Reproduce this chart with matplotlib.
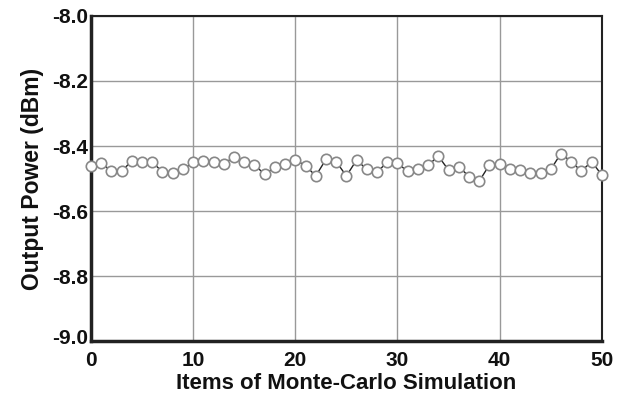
import matplotlib
matplotlib.use("Agg")
import matplotlib.pyplot as plt
from matplotlib.transforms import ScaledTranslation

plt.rcParams['font.family'] = ['Liberation Sans', 'DejaVu Sans']
plt.rcParams['font.weight'] = 'bold'

# Monte-Carlo run index and output power (dBm)
items = list(range(51))
power = [-8.461, -8.453, -8.476, -8.478, -8.445, -8.448, -8.449, -8.480, -8.484, -8.472,
         -8.450, -8.445, -8.450, -8.455, -8.433, -8.448, -8.459, -8.486, -8.466, -8.456,
         -8.443, -8.460, -8.492, -8.441, -8.448, -8.492, -8.443, -8.472, -8.480, -8.450,
         -8.453, -8.478, -8.472, -8.459, -8.431, -8.474, -8.463, -8.494, -8.508, -8.458,
         -8.455, -8.472, -8.475, -8.484, -8.484, -8.472, -8.423, -8.448, -8.477, -8.448,
         -8.489]

xticks = [0, 10, 20, 30, 40, 50]
yticks = [-9.0, -8.8, -8.6, -8.4, -8.2, -8.0]

fig = plt.figure(figsize=(6.23, 3.99), dpi=100)
ax = fig.add_axes([0.146, 0.145, 0.82, 0.815])

ax.plot(items, power, color='#222222', linewidth=1.0, marker='o', markersize=7.5,
        markerfacecolor='white', markeredgecolor='#888888', markeredgewidth=1.2,
        clip_on=False, zorder=3)

ax.set_xlim(0, 50)
ax.set_ylim(-9.0, -8.0)
ax.set_xticks(xticks)
ax.set_yticks(yticks)
ax.set_yticklabels(['%.1f' % v for v in yticks])
ax.grid(True, color='#999999', linewidth=1.0)
ax.set_axisbelow(True)
for s in ax.spines.values():
    s.set_color('#222222')
    s.set_linewidth(1.5)
ax.spines['left'].set_linewidth(2.5)
ax.spines['bottom'].set_linewidth(2.5)
ax.tick_params(length=0, labelsize=15, pad=2, colors='#111111')
ax.tick_params(axis='x', pad=7)
# lift the bottom y label a little so it clears the x "0"
lab = ax.get_yticklabels()[0]
lab.set_transform(lab.get_transform() + ScaledTranslation(0, 3 / 72, fig.dpi_scale_trans))
ax.set_xlabel('Items of Monte-Carlo Simulation', fontsize=16, fontweight='bold',
              color='#111111', labelpad=2)
ax.set_ylabel('Output Power (dBm)', fontsize=16.5, fontweight='bold',
              color='#111111', labelpad=6)

fig.savefig('out.png', dpi=100)
